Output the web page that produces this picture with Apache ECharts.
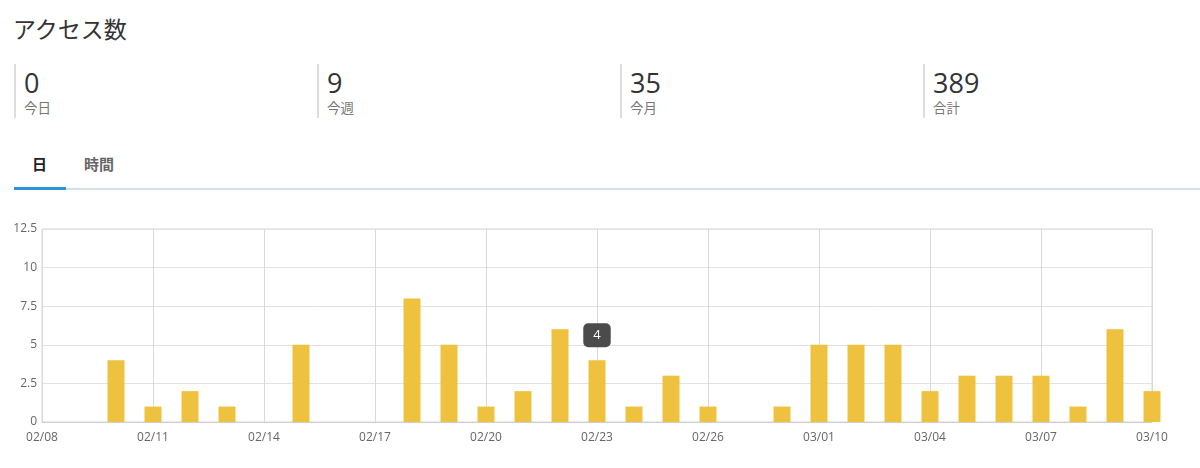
<!DOCTYPE html>
<html>
<head>
<meta charset="utf-8">
<script src="https://cdn.jsdelivr.net/npm/echarts@6/dist/echarts.min.js"></script>
<style>
  html, body { margin: 0; padding: 0; background: #fff; }
  body { width: 1200px; height: 468px; position: relative; overflow: hidden;
         font-family: "Open Sans", "Noto Sans CJK JP", sans-serif; color: #333; }
  .title { position: absolute; left: 13px; top: 11px; font-size: 23px; color: #333;
           font-family: "Noto Sans CJK JP", sans-serif; font-weight: 400; }
  .stat { position: absolute; top: 64px; height: 54px; border-left: 2px solid #dcdcdc; padding-left: 8px; }
  .stat .num { font-size: 27px; line-height: 30px; color: #333; margin-top: 4px; }
  .stat .lbl { font-size: 13.5px; line-height: 18px; color: #777; font-family: "Noto Sans CJK JP", sans-serif; }
  .tabline { position: absolute; left: 14px; top: 188px; width: 1186px; height: 2px; background: #d5e0e6; }
  .tabact { position: absolute; left: 14px; top: 187px; width: 52px; height: 3px; background: #2b95db; }
  .tab { position: absolute; top: 153px; font-size: 15px; font-weight: 700;
         font-family: "Noto Sans CJK JP", sans-serif; }
  #chart { position: absolute; left: 0; top: 210px; width: 1200px; height: 258px; }
</style>
</head>
<body>
<div class="title">アクセス数</div>
<div class="stat" style="left:14px"><div class="num">0</div><div class="lbl">今日</div></div>
<div class="stat" style="left:317px"><div class="num">9</div><div class="lbl">今週</div></div>
<div class="stat" style="left:620px"><div class="num">35</div><div class="lbl">今月</div></div>
<div class="stat" style="left:923px"><div class="num">389</div><div class="lbl">合計</div></div>
<div class="tab" style="left:32px;color:#222">日</div>
<div class="tab" style="left:84px;color:#666">時間</div>
<div class="tabline"></div>
<div class="tabact"></div>
<div id="chart"></div>
<script>
// ---- data ----
const startDate = "2023-02-08";
const endDate = "2023-03-10";
const dates = ["2023-02-08","2023-02-09","2023-02-10","2023-02-11","2023-02-12","2023-02-13","2023-02-14",
  "2023-02-15","2023-02-16","2023-02-17","2023-02-18","2023-02-19","2023-02-20","2023-02-21","2023-02-22",
  "2023-02-23","2023-02-24","2023-02-25","2023-02-26","2023-02-27","2023-02-28","2023-03-01","2023-03-02",
  "2023-03-03","2023-03-04","2023-03-05","2023-03-06","2023-03-07","2023-03-08","2023-03-09","2023-03-10"];
const visits = [0,0,4,1,2,1,0,5,0,0,8,5,1,2,6,4,1,3,1,0,1,5,5,5,2,3,3,3,1,6,2];
const xTickLabels = ["02/08","02/11","02/14","02/17","02/20","02/23","02/26","03/01","03/04","03/07","03/10"];
const yTicks = [0, 2.5, 5, 7.5, 10, 12.5];
const highlightDate = "2023-02-23";

const DAY = 86400000;
const t0 = Date.parse(startDate + "T00:00:00Z");
const dayIndex = d => Math.round((Date.parse(d + "T00:00:00Z") - t0) / DAY);
const maxDay = dayIndex(endDate);

const seriesData = dates.map((d, i) => {
  const item = { value: [dayIndex(d), visits[i]] };
  if (d === highlightDate) {
    item.label = {
      show: true, position: 'top', distance: 13,
      formatter: String(visits[i]),
      color: '#fff', backgroundColor: '#4b4b4b', borderRadius: 5,
      padding: [6, 10, 5, 10], fontSize: 13, fontFamily: 'Open Sans'
    };
  }
  return item;
});

const chart = echarts.init(document.getElementById('chart'), null, { renderer: 'canvas' });
chart.setOption({
  animation: false,
  grid: { left: 42, right: 48, top: 19, bottom: 46, show: true, borderColor: '#d8d8d8', borderWidth: 1 },
  xAxis: {
    type: 'value', min: 0, max: maxDay, interval: 3,
    axisLine: { show: true, lineStyle: { color: '#cfcfcf' } },
    axisTick: { show: false },
    splitLine: { show: true, lineStyle: { color: '#d9d9d9' } },
    axisLabel: {
      color: '#666', fontSize: 12, fontFamily: 'Open Sans', margin: 10,
      formatter: v => xTickLabels[Math.round(v / 3)] || ''
    }
  },
  yAxis: {
    type: 'value', min: yTicks[0], max: yTicks[yTicks.length - 1], interval: 2.5,
    axisLine: { show: false }, axisTick: { show: false },
    splitLine: { lineStyle: { color: '#e2e2e2' } },
    axisLabel: { color: '#666', fontSize: 12, fontFamily: 'Open Sans', margin: 5 }
  },
  series: [{
    type: 'bar', data: seriesData, barWidth: 17, clip: false,
    itemStyle: { color: '#eec23f' }
  }]
});
</script>
</body>
</html>
